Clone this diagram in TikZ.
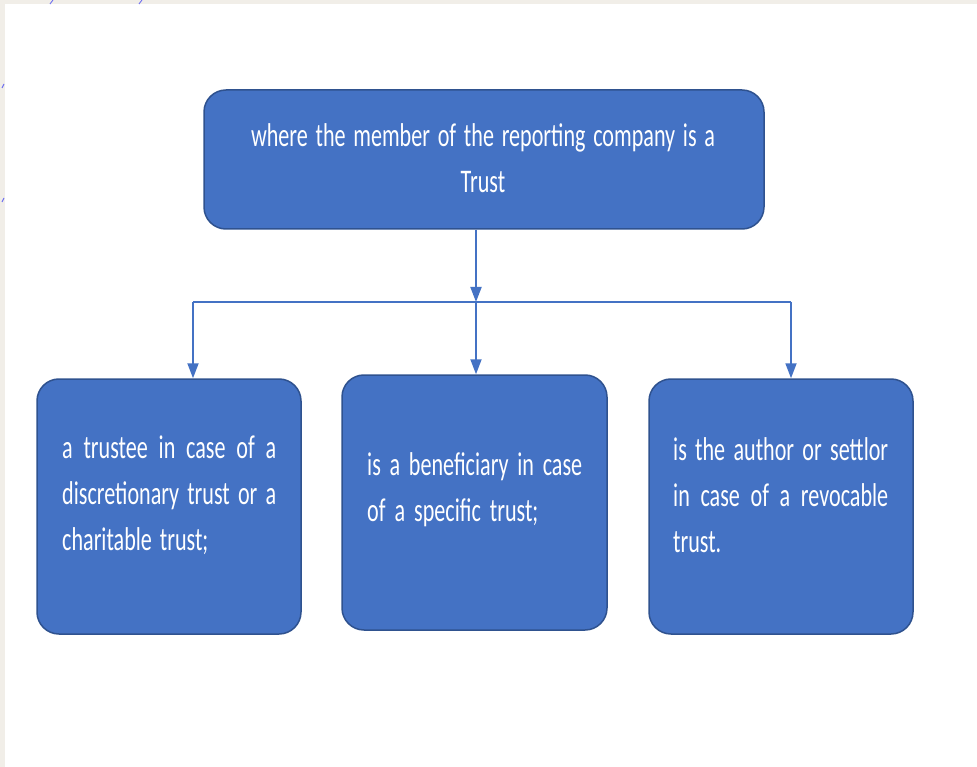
\documentclass[tikz,border=0pt]{standalone}
\usepackage{fontspec}
\setmainfont{Carlito}[FakeStretch=0.67]
\usetikzlibrary{arrows.meta}
\definecolor{boxblue}{HTML}{4472C4}
\definecolor{boxedge}{HTML}{2F528F}
\definecolor{framecol}{HTML}{F1EEE8}
\definecolor{markcol}{HTML}{6E6EF0}
\begin{document}
\begin{tikzpicture}[x=1pt,y=-1pt,
  box/.style={draw=boxedge, line width=1.5pt, fill=boxblue, rounded corners=22pt, inner sep=0pt},
  txt/.style={text=white, font=\fontsize{33}{46}\selectfont, inner sep=0pt},
  conn/.style={draw=boxblue, line width=1.8pt},
  tip/.style={-{Triangle[length=15pt,width=11pt]}}]
\useasboundingbox (0,0) rectangle (977,767);
\fill[white] (0,0) rectangle (977,767);
\fill[framecol] (0,0) rectangle (977,4.5);
\fill[framecol] (0,0) rectangle (5,767);
% stray marks
\draw[markcol, line width=0.9pt] (50,4) -- (53,0);
\draw[markcol, line width=0.9pt] (139,4) -- (142,0);
\draw[markcol, line width=0.9pt] (2,88) -- (4,84);
\draw[markcol, line width=0.9pt] (2,202) -- (4,198);
% boxes
\node[box, minimum width=560pt, minimum height=139pt] (top) at (484,159.5) {};
\node[box, minimum width=264pt, minimum height=255pt] (bl) at (169,506.5) {};
\node[box, minimum width=265pt, minimum height=255pt] (bm) at (474.5,502.5) {};
\node[box, minimum width=264pt, minimum height=255pt] (br) at (781,506.5) {};
% texts
\node[txt, align=center] (tt) at (483,158)
  {\makebox[464pt]{where\hfill the\hfill member\hfill of\hfill the\hfill reporting\hfill company\hfill is\hfill a}\\Trust};
\node[txt, align=left, anchor=west] (lt) at (62,495)
  {\makebox[214pt]{a\hfill trustee\hfill in\hfill case\hfill of\hfill a}\\
   \makebox[214pt]{discretionary\hfill trust\hfill or\hfill a}\\
   charitable\hspace{8pt}trust;};
\node[txt, align=left, anchor=west] (mt) at (367,490)
  {\makebox[215pt]{is\hfill a\hfill beneficiary\hfill in\hfill case}\\
   of\hspace{9pt}a\hspace{9pt}specific\hspace{9pt}trust;};
\node[txt, align=left, anchor=west] (rt) at (673,495)
  {\makebox[215pt]{is\hfill the\hfill author\hfill or\hfill settlor}\\
   \makebox[215pt]{in\hfill case\hfill of\hfill a\hfill revocable}\\
   trust.};
% connectors
\coordinate (j) at (476,302);
\coordinate (hl) at (193,302);
\coordinate (hr) at (791,302);
\draw[conn, tip] (top.south -| j) -- (j);
\draw[conn] (hl) -- (hr);
\draw[conn, tip] (hl) -- (hl |- bl.north);
\draw[conn, tip] (j) -- (j |- bm.north);
\draw[conn, tip] (hr) -- (hr |- br.north);
\end{tikzpicture}
\end{document}
